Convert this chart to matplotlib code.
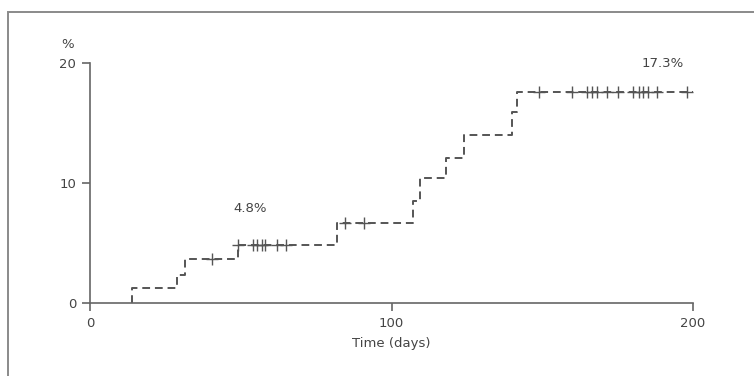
import numpy as np
import matplotlib.pyplot as plt
from matplotlib.patches import Rectangle

# step curve (days, cumulative %)
step_days = [14, 14, 29, 31.5, 49, 82, 107, 109.5, 118, 124, 140, 141.5, 200]
step_pct = [0, 1.25, 2.3, 3.7, 4.85, 6.7, 8.5, 10.4, 12.1, 14.0, 15.9, 17.6, 17.6]

# censored observations
censor_days = [40.5, 49, 54, 55.5, 57, 58, 62, 65, 84.5, 91,
               149, 160, 165, 166.5, 168, 171.5, 175, 180, 182, 183.5,
               185, 188, 198]

xticks = [0, 100, 200]
yticks = [0, 10, 20]

gray = '#555555'
txt = '#444444'

fig = plt.figure(figsize=(7.54, 3.76), dpi=100)
fig.patch.set_facecolor('white')

# outer frame (runs off the right and bottom edge)
fig.patches.append(Rectangle((8 / 754, -0.1), 1.0, 1 - 12 / 376 + 0.1,
                             transform=fig.transFigure, fill=False,
                             edgecolor='#8a8a8a', linewidth=1.4))

ax = fig.add_axes([90 / 754, 73 / 376, 603 / 754, 239.7 / 376])
ax.step(step_days, step_pct, where='post', color=gray, lw=1.4,
        linestyle=(0, (4, 2.5)))

idx = np.searchsorted(step_days, censor_days, side='right') - 1
cy = np.array(step_pct)[idx]
ax.plot(censor_days, cy, linestyle='none', marker='+', markersize=8,
        markeredgewidth=1.0, color=gray)

ax.set_xlim(0, 200)
ax.set_ylim(0, 20)
ax.set_xticks(xticks)
ax.set_yticks(yticks)
for s in ['top', 'right']:
    ax.spines[s].set_visible(False)
for s in ['left', 'bottom']:
    ax.spines[s].set_color('#666666')
    ax.spines[s].set_linewidth(1.2)
ax.tick_params(direction='out', length=6, width=1.2, color='#666666',
               labelcolor=txt, labelsize=9.5, pad=4)
ax.set_xlabel('Time (days)', fontsize=9.5, color=txt, labelpad=5)

ax.text(-7.3, 21.6, '%', fontsize=9.5, color=txt, ha='center', va='center',
        clip_on=False)
ax.text(53, 7.9, '4.8%', fontsize=9.5, color=txt, ha='center', va='center')
ax.text(190, 20.0, '17.3%', fontsize=9.5, color=txt, ha='center',
        va='center', clip_on=False)

fig.savefig('out.png', dpi=100)
